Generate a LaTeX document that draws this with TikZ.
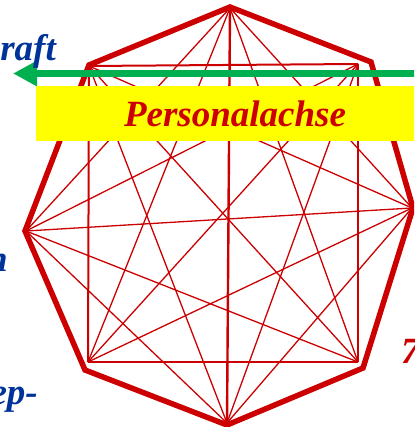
\documentclass[tikz,border=0pt]{standalone}
\usepackage{fontspec}
\setmainfont{Liberation Serif}
\usetikzlibrary{arrows.meta}
\definecolor{kred}{RGB}{204,0,0}
\definecolor{kblue}{RGB}{0,51,153}
\definecolor{kgreen}{RGB}{0,176,80}
\definecolor{kyellow}{RGB}{255,255,0}
\newcommand{\bigtxt}{\fontsize{37}{40}\selectfont\bfseries\itshape}

\begin{document}
\begin{tikzpicture}[x=1pt,y=-1pt,
    rim/.style={kred,line width=5.5pt,line join=miter},
    chord/.style={kred,line width=1.3pt},
    side/.style={kred,line width=2pt},
    lbl/.style={inner sep=0pt,font=\bigtxt}]
    \useasboundingbox (0,0) rectangle (414,427);
    \clip (0,0) rectangle (414,427);
    % outer corners
    \coordinate (o1) at (230,7);
    \coordinate (o2) at (371,62);
    \coordinate (o3) at (413,208);
    \coordinate (o4) at (363,368);
    \coordinate (o5) at (227,425);
    \coordinate (o6) at (85,370);
    \coordinate (o7) at (25,231);
    \coordinate (o8) at (89,65);
    % inner corners
    \coordinate (p1) at (230,8);
    \coordinate (p2) at (358,64);
    \coordinate (p3) at (412,208);
    \coordinate (p4) at (358,362);
    \coordinate (p5) at (227,423);
    \coordinate (p6) at (88,362);
    \coordinate (p7) at (26,231);
    \coordinate (p8) at (89,66);
    \foreach \i/\j in {1/3,1/4,1/6,1/7,2/5,2/6,2/7,3/5,3/6,3/7,3/8,4/7,4/8,5/7,5/8}
        \draw [chord] (p\i) -- (p\j);
    \foreach \i/\j in {2/4,4/6,6/8,8/2}
        \draw [side] (p\i) -- (p\j);
    \draw [kred,line width=2.4pt] (p1) -- (p5);
    \draw [rim] (o1) -- (o2) -- (o3) -- (o4) -- (o5) -- (o6) -- (o7) -- (o8) -- cycle;
    % arrow and axis box
    \coordinate (as) at (420,73.5);
    \coordinate (ae) at (13,73.5);
    \draw [kgreen,line width=7pt,-{Triangle[length=24pt,width=24pt]}] (as) -- (ae);
    \node [fill=kyellow,minimum width=398pt,minimum height=55pt,inner sep=0pt,
        font=\bigtxt,text=kred] (axis) at (235,113.5) {Personalachse};
    % cut labels
    \node [lbl,text=kblue,anchor=base east] (kraft) at (56,61) {raft};
    \node [lbl,text=kblue,anchor=base east] (left) at (8,271) {n};
    \node [lbl,text=kblue,anchor=base east] (step) at (38,404) {ep-};
    \node [lbl,text=kred,anchor=base west] (seven) at (401,363) {7};
\end{tikzpicture}
\end{document}
